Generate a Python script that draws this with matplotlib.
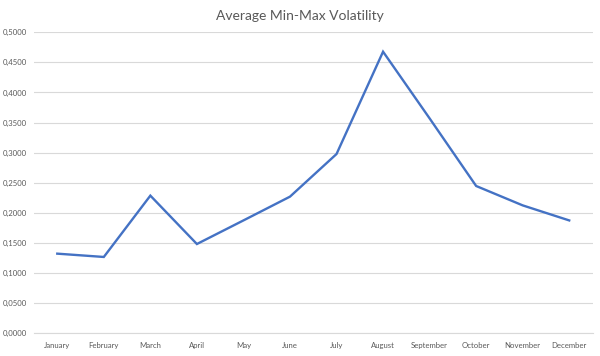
import matplotlib.pyplot as plt
from matplotlib.ticker import FuncFormatter, MultipleLocator

# data
months = ["January", "February", "March", "April", "May", "June",
          "July", "August", "September", "October", "November", "December"]
volatility = [0.1323, 0.1268, 0.2287, 0.1483, 0.1875, 0.2270,
              0.2978, 0.4678, 0.3570, 0.2447, 0.2125, 0.1875]

plt.rcParams['font.family'] = ['Lato', 'DejaVu Sans']

fig = plt.figure(figsize=(6, 3.56), dpi=100)
ax = fig.add_axes([34 / 600, 22.7 / 356, 558.5 / 600, 301 / 356])

x = range(len(months))
ax.plot(x, volatility, color='#4472C4', linewidth=1.7, solid_joinstyle='miter')

ax.set_xlim(-0.5, len(months) - 0.5)
ax.set_ylim(0, 0.5)
ax.yaxis.set_major_locator(MultipleLocator(0.05))
ax.yaxis.set_major_formatter(FuncFormatter(lambda v, p: ("%.4f" % v).replace('.', ',')))
ax.set_xticks(list(x))
ax.set_xticklabels(months)

ax.grid(axis='y', color='#D9D9D9', linewidth=0.8)
ax.set_axisbelow(True)
for s in ['top', 'right', 'left']:
    ax.spines[s].set_visible(False)
ax.spines['bottom'].set_color('#D9D9D9')
ax.spines['bottom'].set_linewidth(0.8)

ax.tick_params(axis='both', length=0, labelsize=5.6, labelcolor='#595959')
ax.tick_params(axis='y', pad=5)
ax.tick_params(axis='x', pad=6)

fig.text(0.5, 0.955, "Average Min-Max Volatility", ha='center', va='center',
         fontsize=10, color='#595959')

fig.savefig("out.png", dpi=100)
